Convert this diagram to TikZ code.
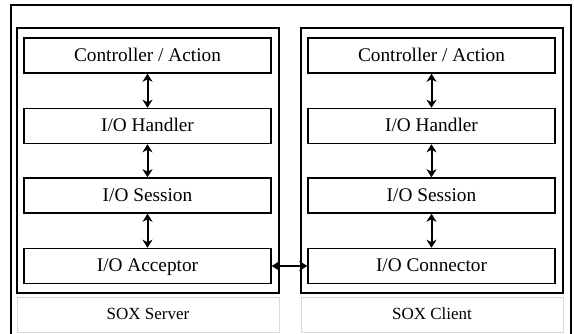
\documentclass[tikz,border=0pt]{standalone}
\usepackage{fontspec}
\setmainfont{Liberation Serif}
\usetikzlibrary{arrows.meta}
\begin{document}
\begin{tikzpicture}[x=1pt,y=-1pt,
  layer/.style={draw=black,line width=1.5pt,minimum width=247pt,minimum height=35pt,inner sep=0pt,text height=14pt,text depth=2.5pt,font=\fontsize{19.3}{22}\selectfont},
  group/.style={draw=black,line width=2pt,minimum width=262pt,minimum height=265pt,inner sep=0pt},
  caption/.style={draw=black!15,line width=0.6pt,minimum width=262pt,minimum height=35pt,inner sep=0pt,text height=12pt,text depth=3pt,font=\fontsize{17}{20}\selectfont},
  link/.style={line width=2pt,{Stealth[length=8pt,width=10pt,inset=2.5pt]}-{Stealth[length=8pt,width=10pt,inset=2.5pt]}}]
\useasboundingbox (0,0) rectangle (574,333);
\draw[line width=1.5pt] (11,334) -- (11,5) -- (571,5) -- (571,334);
\node[group] (gs) at (148,160.5) {};
\node[group] (gc) at (432,160.5) {};
\node[caption] (ls) at (148,314.5) {SOX Server};
\node[caption] (lc) at (432,314.5) {SOX Client};
\node[layer] (s1) at (147.5,55.5) {Controller / Action};
\node[layer] (s2) at (147.5,126) {I/O Handler};
\node[layer] (s3) at (147.5,195.5) {I/O Session};
\node[layer] (s4) at (147.5,266) {I/O Acceptor};
\node[layer] (c1) at (431.5,55.5) {Controller / Action};
\node[layer] (c2) at (431.5,126) {I/O Handler};
\node[layer] (c3) at (431.5,195.5) {I/O Session};
\node[layer] (c4) at (431.5,266) {I/O Connector};
\draw[link] (s1) -- (s2);
\draw[link] (s2) -- (s3);
\draw[link] (s3) -- (s4);
\draw[link] (c1) -- (c2);
\draw[link] (c2) -- (c3);
\draw[link] (c3) -- (c4);
\draw[link] (s4) -- (c4);
\end{tikzpicture}
\end{document}
